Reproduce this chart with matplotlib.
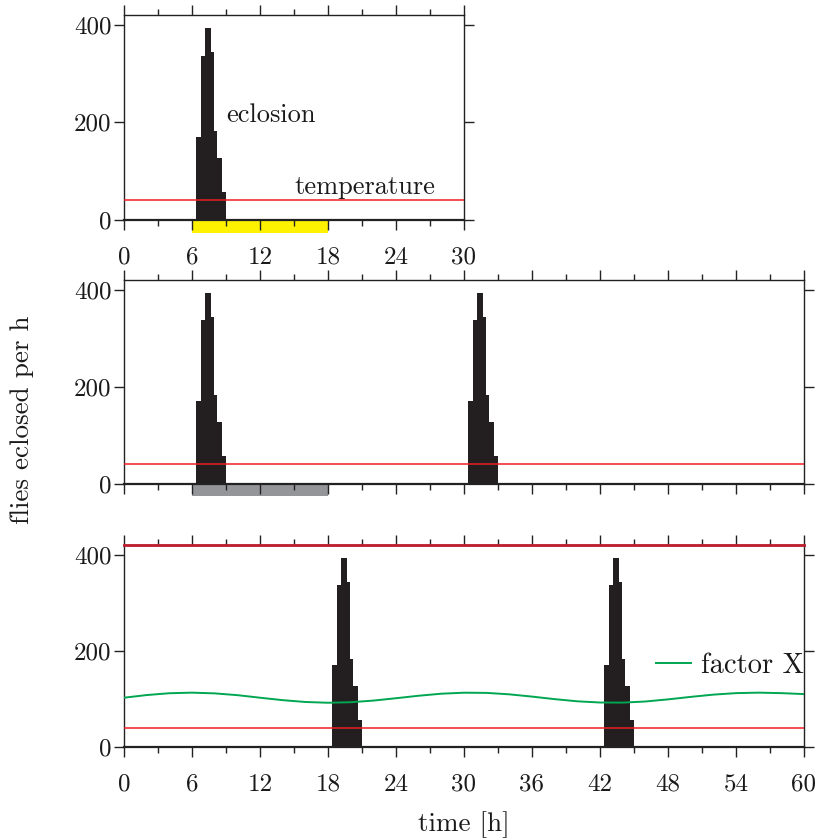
import numpy as np
import matplotlib
matplotlib.use("Agg")
import matplotlib.pyplot as plt
from matplotlib.patches import Rectangle
from matplotlib.ticker import MultipleLocator

plt.rcParams['font.family'] = ['cmr10', 'DejaVu Serif']
plt.rcParams['axes.formatter.use_mathtext'] = True

# ---- data ----
bin_edges = [6.35, 6.75, 7.15, 7.65, 7.92, 8.23, 8.63, 9.03]   # hours
bin_counts = [170, 337, 393, 344, 182, 127, 57]                 # flies per h
peak_shifts_top = [0]
peak_shifts_mid = [0, 24]
peak_shifts_bot = [12, 36]
temperature_level = 40
light_on, light_off = 6, 18
top_line_level = 420

factor_t = [0, 2, 4, 6, 8, 10, 12, 14, 16, 18, 20, 22, 24, 26, 28, 30,
            32, 34, 36, 38, 40, 42, 44, 46, 48, 50, 52, 54, 56, 58, 60]
factor_x = [102.5, 108.0, 111.8, 113.0, 111.5, 107.8, 102.5, 97.4, 93.6, 92.0,
            93.1, 96.5, 101.4, 106.6, 110.8, 112.9, 112.5, 109.5, 104.8, 99.5,
            95.0, 92.5, 92.3, 94.6, 99.0, 104.2, 108.9, 112.0, 113.0, 112.0, 110.0]

yticks = [0, 200, 400]
xticks_top = [0, 6, 12, 18, 24, 30]
xticks_bot = [0, 6, 12, 18, 24, 30, 36, 42, 48, 54, 60]

BAR = '#231f20'
RED = '#ed1c24'
DARKRED = '#be1e2d'
GREEN = '#00a651'
YELLOW = '#fff200'
GRAY = '#939598'
FS = 18

fig = plt.figure(figsize=(8.21, 8.40), dpi=100)

def style(ax, xmax):
    ax.set_xlim(0, xmax)
    ax.set_ylim(0, 420)
    ax.xaxis.set_major_locator(MultipleLocator(6))
    ax.xaxis.set_minor_locator(MultipleLocator(3))
    ax.set_yticks(yticks)
    ax.tick_params(which='both', direction='out', top=True, right=True,
                   width=1.0, color='#222222', labelsize=FS, labelcolor='#1a1a1a')
    ax.tick_params(which='major', length=7)
    ax.tick_params(which='minor', length=4.5)
    ax.tick_params(axis='y', pad=2)
    for s in ax.spines.values():
        s.set_linewidth(1.0)
        s.set_color('#222222')
    ax.spines['bottom'].set_linewidth(1.6)
    ax.set_yticklabels([str(v) for v in yticks])

def draw_peaks(ax, shifts):
    widths = np.diff(bin_edges)
    for sh in shifts:
        ax.bar(np.array(bin_edges[:-1]) + sh, bin_counts, width=widths,
               align='edge', color=BAR, edgecolor='none', zorder=2)

fw, fh = 821, 840
def pos(left, right, bottom_px, top_px):
    return [left / fw, 1 - bottom_px / fh, (right - left) / fw, (bottom_px - top_px) / fh]

# top panel
ax1 = fig.add_axes(pos(124, 464, 220, 15))
style(ax1, 30)
draw_peaks(ax1, peak_shifts_top)
ax1.axhline(temperature_level, color=RED, lw=1.1, zorder=3)
ax1.add_patch(Rectangle((light_on, -26), light_off - light_on, 26, color=YELLOW,
                        clip_on=False, zorder=1, transform=ax1.transData, lw=0))
ax1.set_xticks(xticks_top)
ax1.set_xticklabels([str(v) for v in xticks_top])
ax1.tick_params(axis='x', pad=12)
ax1.text(9.0, 215, 'eclosion', fontsize=FS + 1, ha='left', va='center', color='#1a1a1a')
ax1.text(15.0, 68, 'temperature', fontsize=FS + 1, ha='left', va='center', color='#1a1a1a')

# middle panel
ax2 = fig.add_axes(pos(124, 804, 483.7, 280))
style(ax2, 60)
draw_peaks(ax2, peak_shifts_mid)
ax2.axhline(temperature_level, color=RED, lw=1.1, zorder=3)
ax2.add_patch(Rectangle((light_on, -26), light_off - light_on, 26, color=GRAY,
                        clip_on=False, zorder=1, transform=ax2.transData, lw=0))
ax2.set_xticklabels([])

# bottom panel
ax3 = fig.add_axes(pos(124, 804, 747, 545))
style(ax3, 60)
draw_peaks(ax3, peak_shifts_bot)
ax3.axhline(temperature_level, color=RED, lw=1.1, zorder=3)
ax3.axhline(top_line_level, color=DARKRED, lw=2.0, zorder=4, clip_on=False)
ax3.plot(factor_t, factor_x, color=GREEN, lw=1.4, zorder=3, label='factor X')
ax3.set_xticks(xticks_bot)
ax3.set_xticklabels([str(v) for v in xticks_bot])
ax3.tick_params(axis='x', pad=12)
leg = ax3.legend(loc='center right', bbox_to_anchor=(1.0, 0.40), frameon=False,
                 fontsize=20.5, handlelength=1.23, handletextpad=0.35,
                 borderpad=0, borderaxespad=0)
for t in leg.get_texts():
    t.set_color('#1a1a1a')

fig.text(22 / fw, 0.5, 'flies eclosed per h', rotation=90, fontsize=19.5,
         ha='center', va='center', color='#1a1a1a')
fig.text(464 / fw, 1 - 825 / fh, 'time [h]', fontsize=19.5, ha='center', va='center',
         color='#1a1a1a')

fig.savefig('out.png', dpi=100)
